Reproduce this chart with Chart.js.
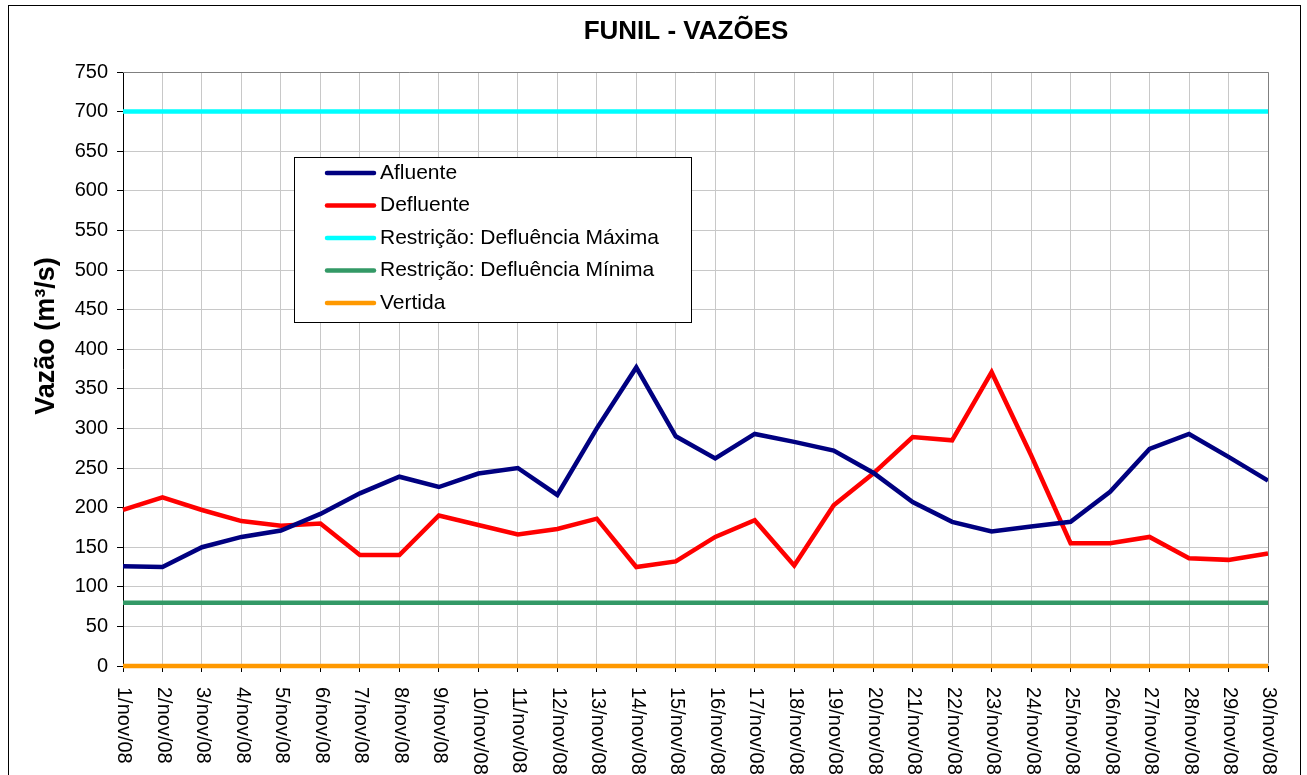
<!DOCTYPE html>
<html lang="pt-br">
<head>
<meta charset="UTF-8">
<title>FUNIL - VAZÕES</title>
<script src="https://cdn.jsdelivr.net/npm/chart.js@4.4.0/dist/chart.umd.min.js"></script>
<style>
    html, body { margin: 0; padding: 0; background: #fff; }
    #caixa { width: 1307px; height: 775px; position: relative; }
</style>
</head>
<body>
<div id="caixa"><canvas id="grafico"></canvas></div>

<script>
    // dias de novembro/2008
    const dias = ['1/nov/08', '2/nov/08', '3/nov/08', '4/nov/08', '5/nov/08', '6/nov/08',
        '7/nov/08', '8/nov/08', '9/nov/08', '10/nov/08', '11/nov/08', '12/nov/08',
        '13/nov/08', '14/nov/08', '15/nov/08', '16/nov/08', '17/nov/08', '18/nov/08',
        '19/nov/08', '20/nov/08', '21/nov/08', '22/nov/08', '23/nov/08', '24/nov/08',
        '25/nov/08', '26/nov/08', '27/nov/08', '28/nov/08', '29/nov/08', '30/nov/08'];

    const afluente = [126, 125, 150, 163, 171, 192, 218, 239, 226, 243, 250, 216, 300, 377, 290,
        262, 293, 283, 272, 244, 207, 182, 170, 176, 182, 220, 274, 293, 264, 234];

    const defluente = [197, 213, 197, 183, 177, 180, 140, 140, 190, 178, 166, 173, 186, 125, 132,
        163, 184, 127, 203, 243, 289, 285, 371, 266, 155, 155, 163, 136, 134, 142];

    const defluenciaMaxima = [700, 700, 700, 700, 700, 700, 700, 700, 700, 700, 700, 700, 700, 700, 700,
        700, 700, 700, 700, 700, 700, 700, 700, 700, 700, 700, 700, 700, 700, 700];

    const defluenciaMinima = [80, 80, 80, 80, 80, 80, 80, 80, 80, 80, 80, 80, 80, 80, 80,
        80, 80, 80, 80, 80, 80, 80, 80, 80, 80, 80, 80, 80, 80, 80];

    const vertida = [0, 0, 0, 0, 0, 0, 0, 0, 0, 0, 0, 0, 0, 0, 0,
        0, 0, 0, 0, 0, 0, 0, 0, 0, 0, 0, 0, 0, 0, 0];

    const eixoY = { min: 0, max: 750, passo: 50 };

    const fonte = '"Liberation Sans", Arial, sans-serif';

    function serie(nome, dados, cor) {
        return {
            label: nome,
            data: dados,
            borderColor: cor,
            backgroundColor: cor,
            borderWidth: 4.5,
            pointRadius: 0,
            tension: 0,
            fill: false,
            clip: false
        };
    }

    // titulo, eixos, legenda e rotulos desenhados a mao
    const desenhoExtra = {
        id: 'desenhoExtra',
        beforeDraw(chart) {
            const ctx = chart.ctx;
            ctx.save();
            ctx.fillStyle = '#fff';
            ctx.fillRect(0, 0, chart.width, chart.height);
            ctx.restore();
        },
        afterDraw(chart) {
            const ctx = chart.ctx;
            const a = chart.chartArea;
            const xs = chart.scales.x;
            ctx.save();

            // moldura da area do grafico
            ctx.strokeStyle = '#808080';
            ctx.lineWidth = 1;
            ctx.beginPath();
            ctx.moveTo(a.left, a.top + 0.5);
            ctx.lineTo(a.right + 0.5, a.top + 0.5);
            ctx.lineTo(a.right + 0.5, a.bottom - 3);
            ctx.stroke();

            // moldura externa
            ctx.strokeStyle = '#000';
            ctx.strokeRect(8.5, 5.5, 1292, 800);

            // titulo
            ctx.fillStyle = '#000';
            ctx.font = 'bold 26px ' + fonte;
            ctx.textAlign = 'center';
            ctx.textBaseline = 'middle';
            ctx.fillText('FUNIL - VAZÕES', 686, 32);

            // titulo do eixo y
            ctx.save();
            ctx.translate(47, 336);
            ctx.rotate(-Math.PI / 2);
            ctx.font = 'bold 27px ' + fonte;
            ctx.fillText('Vazão (m³/s)', 0, 0);
            ctx.restore();

            // rotulos do eixo x (lidos de cima para baixo)
            ctx.font = '20px ' + fonte;
            ctx.textAlign = 'left';
            ctx.textBaseline = 'middle';
            chart.data.labels.forEach((txt, i) => {
                const x = xs.getPixelForValue(i);
                ctx.save();
                ctx.translate(x + 1, a.bottom + 21);
                ctx.rotate(Math.PI / 2);
                ctx.fillText(txt, 0, 0);
                ctx.restore();
            });

            // legenda
            const lx = 294, ly = 157, lw = 397, lh = 165;
            ctx.fillStyle = '#fff';
            ctx.fillRect(lx, ly, lw, lh);
            ctx.strokeStyle = '#000';
            ctx.strokeRect(lx + 0.5, ly + 0.5, lw, lh);
            ctx.font = '21px ' + fonte;
            ctx.textBaseline = 'middle';
            chart.data.datasets.forEach((ds, i) => {
                const y = 173 + i * 32.5;
                ctx.strokeStyle = ds.borderColor;
                ctx.lineWidth = 4.5;
                ctx.lineCap = 'round';
                ctx.beginPath();
                ctx.moveTo(327, y);
                ctx.lineTo(374, y);
                ctx.stroke();
                ctx.fillStyle = '#000';
                ctx.fillText(ds.label, 380, y);
            });

            ctx.restore();
        }
    };

    new Chart(document.getElementById('grafico'), {
        type: 'line',
        data: {
            labels: dias,
            datasets: [
                serie('Afluente', afluente, '#000080'),
                serie('Defluente', defluente, '#FF0000'),
                serie('Restrição: Defluência Máxima', defluenciaMaxima, '#00FFFF'),
                serie('Restrição: Defluência Mínima', defluenciaMinima, '#339966'),
                serie('Vertida', vertida, '#FF9900')
            ]
        },
        options: {
            responsive: true,
            maintainAspectRatio: false,
            animation: false,
            layout: { padding: { top: 72, right: 39, left: 0, bottom: 0 } },
            plugins: {
                legend: { display: false },
                title: { display: false },
                tooltip: { enabled: false }
            },
            scales: {
                x: {
                    type: 'category',
                    offset: false,
                    ticks: { display: false, autoSkip: false },
                    grid: { color: '#c8c8c8', tickLength: 6, tickColor: '#000' },
                    border: { color: '#000', width: 1 },
                    afterFit(scale) { scale.height = 109; }
                },
                y: {
                    min: eixoY.min,
                    max: eixoY.max,
                    ticks: {
                        stepSize: eixoY.passo,
                        color: '#000',
                        padding: 9,
                        font: { family: fonte, size: 20 }
                    },
                    grid: { color: '#c8c8c8', tickLength: 6, tickColor: '#000' },
                    border: { color: '#000', width: 1 },
                    afterFit(scale) { scale.width = 123; }
                }
            }
        },
        plugins: [desenhoExtra]
    });
</script>
</body>
</html>
